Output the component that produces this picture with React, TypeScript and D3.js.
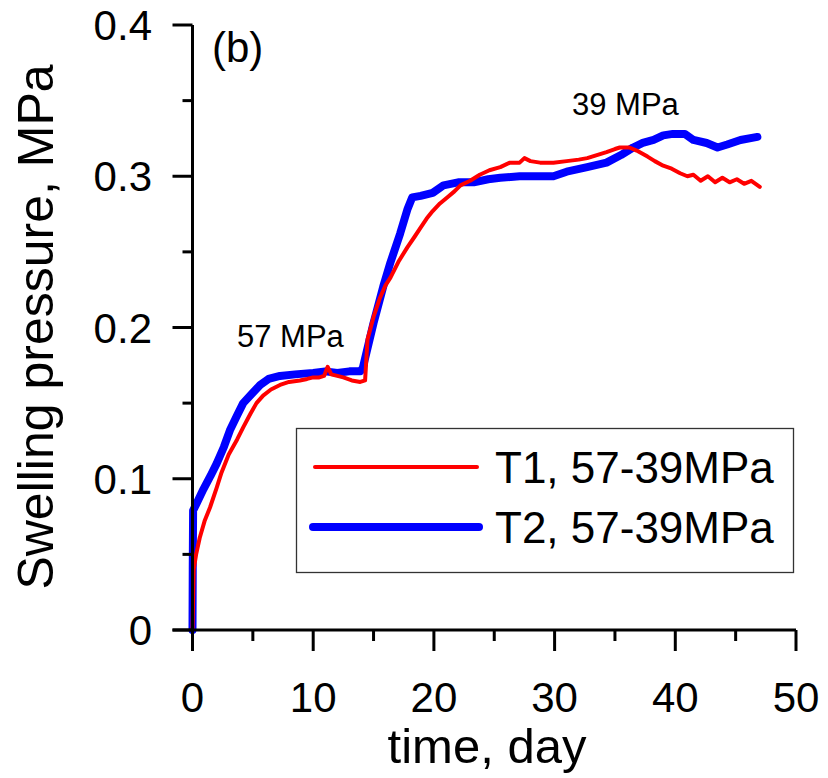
import React from "react";
import * as d3 from "d3";

const t1Time = [0, 0.05, 0.1, 0.3, 0.6, 1.0, 1.45, 2.0, 2.4, 3.0, 3.7, 4.2, 4.8, 5.3, 5.85, 6.5, 7.25, 8.0, 8.9, 9.5, 10, 10.5, 10.9, 11.2, 11.5, 12, 12.5, 13.2, 13.9, 14.3, 14.5, 15.0, 15.5, 16.0, 16.4, 17.1, 17.8, 18.4, 18.9, 19.4, 19.9, 20.5, 21.1, 21.7, 22.2, 23.0, 23.8, 24.6, 25.5, 26.3, 27.1, 27.5, 28.0, 28.8, 29.9, 31, 32.0, 32.7, 33.5, 34.3, 35.0, 35.4, 36.2, 36.8, 37.7, 38.3, 39, 39.7, 40.4, 41.0, 41.5, 42.1, 42.7, 43.3, 43.9, 44.5, 45.1, 45.7, 46.3, 47];
const t1Pressure = [0, 0.02, 0.04, 0.05, 0.061, 0.072, 0.081, 0.094, 0.104, 0.116, 0.126, 0.134, 0.143, 0.15, 0.155, 0.159, 0.162, 0.164, 0.165, 0.166, 0.167, 0.167, 0.168, 0.174, 0.169, 0.168, 0.167, 0.165, 0.164, 0.165, 0.192, 0.207, 0.219, 0.228, 0.233, 0.244, 0.253, 0.26, 0.266, 0.272, 0.277, 0.282, 0.286, 0.29, 0.294, 0.297, 0.301, 0.304, 0.306, 0.309, 0.309, 0.312, 0.31, 0.309, 0.309, 0.31, 0.311, 0.312, 0.314, 0.316, 0.318, 0.319, 0.319, 0.317, 0.313, 0.31, 0.307, 0.305, 0.302, 0.3, 0.301, 0.297, 0.3, 0.296, 0.299, 0.296, 0.298, 0.295, 0.297, 0.293];

const t2Time = [0, 0.02, 0.05, 0.3, 0.9, 1.5, 2.0, 2.6, 3.1, 3.7, 4.2, 4.9, 5.6, 6.3, 7.25, 8.5, 10, 11, 12, 13, 13.9, 14.1, 15, 15.8, 16.4, 17.2, 17.8, 18.2, 18.9, 19.9, 20.8, 22, 23.3, 24.5, 25.5, 27.1, 28.8, 29.9, 31, 32.7, 34.3, 35.5, 36.5, 37.3, 38.2, 39, 39.8, 40.8, 41.5, 42.6, 43.5, 44.3, 45.4, 46.8];
const t2Pressure = [0, 0.04, 0.079, 0.083, 0.093, 0.102, 0.11, 0.121, 0.132, 0.142, 0.15, 0.156, 0.162, 0.166, 0.168, 0.169, 0.17, 0.171, 0.17, 0.171, 0.171, 0.173, 0.203, 0.227, 0.243, 0.262, 0.278, 0.286, 0.287, 0.289, 0.294, 0.296, 0.296, 0.298, 0.299, 0.3, 0.3, 0.3, 0.303, 0.306, 0.309, 0.314, 0.319, 0.322, 0.324, 0.327, 0.328, 0.328, 0.324, 0.322, 0.319, 0.321, 0.324, 0.326];

const xMajorTicks = [0, 10, 20, 30, 40, 50];
const xMinorTicks = [5, 15, 25, 35, 45];
const yMajorTicks = [0, 0.1, 0.2, 0.3, 0.4];
const yMinorTicks = [0.05, 0.15, 0.25, 0.35];
const yTickLabels = ["0", "0.1", "0.2", "0.3", "0.4"];

const seriesNames = ["T1, 57-39MPa", "T2, 57-39MPa"];
const seriesColors = ["#ff0000", "#0000ff"];

const FONT = "'Liberation Sans', Arial, Helvetica, sans-serif";

export default function App() {
  const x = d3.scaleLinear().domain([0, 50]).range([192.5, 796]);
  const y = d3.scaleLinear().domain([0, 0.4]).range([630, 25]);

  const line = d3
    .line<[number, number]>()
    .x((d) => x(d[0]))
    .y((d) => y(d[1]));

  const s1 = t1Time.map((t, i) => [t, t1Pressure[i]] as [number, number]);
  const s2 = t2Time.map((t, i) => [t, t2Pressure[i]] as [number, number]);

  return (
    <svg
      width={828}
      height={778}
      style={{ position: "absolute", left: 0, top: 0, background: "#fff" }}
      fontFamily={FONT}
    >
      <rect x={0} y={0} width={828} height={778} fill="#fff" />
      {/* data lines */}
      <path d={line(s2) || ""} fill="none" stroke={seriesColors[1]} strokeWidth={8} strokeLinejoin="round" strokeLinecap="round" />
      <path d={line(s1) || ""} fill="none" stroke={seriesColors[0]} strokeWidth={4} strokeLinejoin="round" strokeLinecap="round" />

      {/* axes */}
      <line x1={x(0)} x2={x(0)} y1={y(0.4)} y2={y(0)} stroke="#000" strokeWidth={3} />
      <line x1={x(0) - 20} x2={x(50)} y1={y(0)} y2={y(0)} stroke="#000" strokeWidth={3} />
      {yMajorTicks.map((v, i) => (
        <g key={"ym" + i}>
          <line x1={x(0) - 20} x2={x(0)} y1={y(v)} y2={y(v)} stroke="#000" strokeWidth={3} />
          <text x={152} y={y(v)} dy="0.36em" textAnchor="end" fontSize={42} fill="#000">
            {yTickLabels[i]}
          </text>
        </g>
      ))}
      {yMinorTicks.map((v, i) => (
        <line key={"yn" + i} x1={x(0) - 10} x2={x(0)} y1={y(v)} y2={y(v)} stroke="#000" strokeWidth={3} />
      ))}
      {xMajorTicks.map((v, i) => (
        <g key={"xm" + i}>
          <line x1={x(v)} x2={x(v)} y1={y(0)} y2={y(0) + 21} stroke="#000" strokeWidth={3} />
          <text x={x(v)} y={712} textAnchor="middle" fontSize={42} fill="#000">
            {String(v)}
          </text>
        </g>
      ))}
      {xMinorTicks.map((v, i) => (
        <line key={"xn" + i} x1={x(v)} x2={x(v)} y1={y(0)} y2={y(0) + 11} stroke="#000" strokeWidth={3} />
      ))}

      {/* axis titles */}
      <text x={487} y={763} textAnchor="middle" fontSize={49} fill="#000">
        time, day
      </text>
      <text transform="translate(53,327) rotate(-90)" textAnchor="middle" fontSize={50} fill="#000">
        Swelling pressure, MPa
      </text>

      {/* annotations */}
      <text x={212} y={62} fontSize={42} fill="#000">(b)</text>
      <text x={237} y={347} fontSize={31} fill="#000">57 MPa</text>
      <text x={572} y={115} fontSize={31} fill="#000">39 MPa</text>

      {/* legend */}
      <rect x={296.5} y={428.5} width={497} height={144} fill="#fff" stroke="#333" strokeWidth={1.3} />
      <line x1={315} x2={477} y1={467} y2={467} stroke={seriesColors[0]} strokeWidth={4} strokeLinecap="round" />
      <line x1={313} x2={479} y1={527} y2={527} stroke={seriesColors[1]} strokeWidth={8} strokeLinecap="round" />
      <text x={495} y={483} fontSize={44} fill="#000">{seriesNames[0]}</text>
      <text x={495} y={543} fontSize={44} fill="#000">{seriesNames[1]}</text>
    </svg>
  );
}
